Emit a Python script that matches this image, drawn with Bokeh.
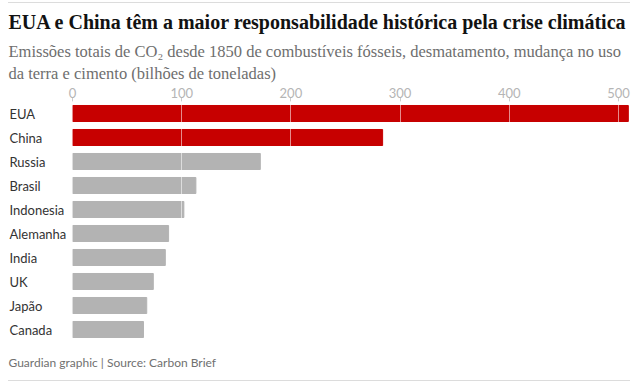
from bokeh.plotting import figure
from bokeh.models import ColumnDataSource, FactorRange, Range1d, Title, FixedTicker, InlineStyleSheet
from bokeh.core.properties import value
from bokeh.embed import file_html
from bokeh.resources import INLINE

countries = ["EUA", "China", "Russia", "Brasil", "Indonesia", "Alemanha", "India", "UK", "Japão", "Canada"]
emissions = [509, 284, 172, 113, 102, 88, 85, 74, 68, 65]
highlighted = ["EUA", "China"]
ticks = [0, 100, 200, 300, 400, 500]

title_text = "EUA e China têm a maior responsabilidade histórica pela crise climática"
subtitle_1 = "Emissões totais de CO₂ desde 1850 de combustíveis fósseis, desmatamento, mudança no uso"
subtitle_2 = "da terra e cimento (bilhões de toneladas)"
footer_text = "Guardian graphic | Source: Carbon Brief"

RED = "#c70000"
GREY = "#b3b3b3"
colors = [RED if c in highlighted else GREY for c in countries]

source = ColumnDataSource(dict(country=countries, value=emissions, color=colors))

rules_css = InlineStyleSheet(css="""
:host { position: relative; }
:host::before, :host::after {
  content: ""; position: absolute; left: 8px; right: 8px; height: 1px;
  background: #dcdcdc; z-index: 10; pointer-events: none;
}
:host::before { top: 2px; }
:host::after { top: 380px; }
""")

p = figure(
    width=638, height=384,
    y_range=FactorRange(factors=countries[::-1]),
    x_range=Range1d(-58.6, 511),
    x_axis_location="above",
    title=None,
    output_backend="svg",
    toolbar_location=None,
    min_border_left=8, min_border_right=8,
    min_border_top=101, min_border_bottom=43,
    stylesheets=[rules_css],
)

p.hbar(y="country", left=0, right="value", height=0.667, color="color", source=source)

p.text(x=0, y="country", text="country", source=source, x_offset=-63,
       text_align="left", text_baseline="middle", text_font=value("Lato"),
       text_font_size="13px", text_color="#333333")

p.outline_line_color = None
p.yaxis.visible = False
p.ygrid.visible = False
p.xgrid.ticker = FixedTicker(ticks=ticks)
p.xgrid.grid_line_color = "white"
p.xgrid.grid_line_alpha = 0.55
p.xgrid.level = "overlay"

ax = p.xaxis[0]
ax.ticker = FixedTicker(ticks=ticks)
ax.axis_line_color = None
ax.major_tick_line_color = "#cccccc"
ax.major_tick_out = 4
ax.major_tick_in = 0
ax.minor_tick_line_color = None
ax.major_label_standoff = 0
ax.major_label_text_color = "#b5b5b5"
ax.major_label_text_font = "Lato"
ax.major_label_text_font_size = "13px"

p.add_layout(Title(text=subtitle_2, align="left", text_font="Liberation Serif",
                   text_font_size="16.5px", text_font_style="normal", text_color="#6e6e6e",
                   standoff=3), "above")
p.add_layout(Title(text=subtitle_1, align="left", text_font="Liberation Serif",
                   text_font_size="16.5px", text_font_style="normal", text_color="#6e6e6e",
                   text_line_height=1.0, standoff=0), "above")
p.add_layout(Title(text=title_text, align="left", text_font="Liberation Serif",
                   text_font_size="20px", text_font_style="bold", text_color="#121212",
                   standoff=14), "above")
p.add_layout(Title(text=footer_text, align="left", text_font="Lato",
                   text_font_size="12px", text_font_style="normal", text_color="#707070",
                   text_baseline="top", standoff=23), "below")

open("out.html", "w").write(file_html(p, INLINE))
